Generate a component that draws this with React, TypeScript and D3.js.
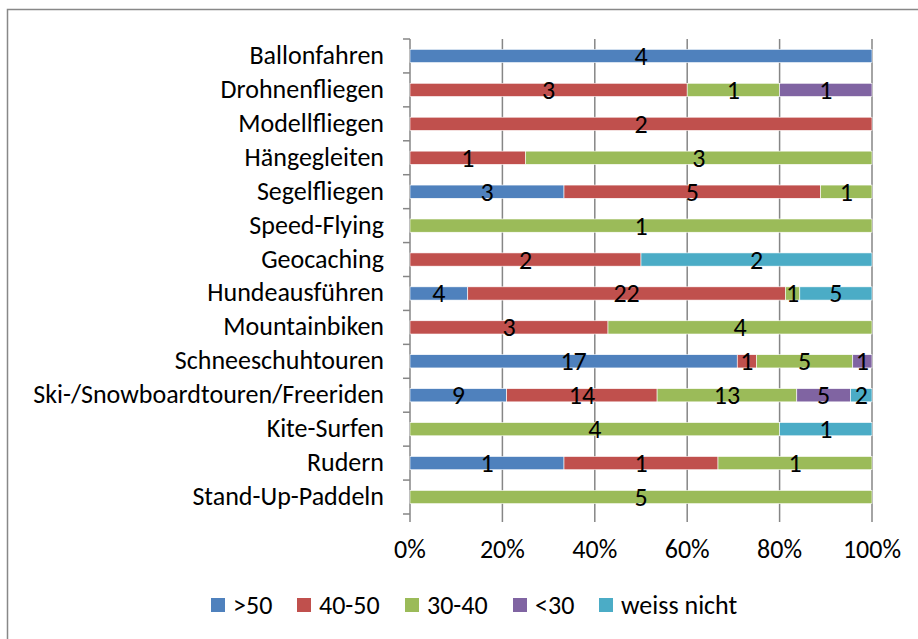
import React from 'react';
import * as d3 from 'd3';

// categories top to bottom
const categories = [
  'Ballonfahren', 'Drohnenfliegen', 'Modellfliegen', 'Hängegleiten', 'Segelfliegen',
  'Speed-Flying', 'Geocaching', 'Hundeausführen', 'Mountainbiken', 'Schneeschuhtouren',
  'Ski-/Snowboardtouren/Freeriden', 'Kite-Surfen', 'Rudern', 'Stand-Up-Paddeln',
];
const seriesNames = ['>50', '40-50', '30-40', '<30', 'weiss nicht'];
const over50 = [4, 0, 0, 0, 3, 0, 0, 4, 0, 17, 9, 0, 1, 0];
const from40to50 = [0, 3, 2, 1, 5, 0, 2, 22, 3, 1, 14, 0, 1, 0];
const from30to40 = [0, 1, 0, 3, 1, 1, 0, 1, 4, 5, 13, 4, 1, 5];
const under30 = [0, 1, 0, 0, 0, 0, 0, 0, 0, 1, 5, 0, 0, 0];
const weissNicht = [0, 0, 0, 0, 0, 0, 2, 5, 0, 0, 2, 1, 0, 0];
const xTicks = [0, 0.2, 0.4, 0.6, 0.8, 1];

const colors = ['#4F81BD', '#C0504D', '#9BBB59', '#8064A2', '#4BACC6'];
const font = 'Carlito, Calibri, "Open Sans", "Noto Sans", sans-serif';

const W = 918, H = 639;
const left = 410, right = 872, top = 39, bottom = 514;
const fs = 26;

export default function App() {
  const allSeries = [over50, from40to50, from30to40, under30, weissNicht];
  const rows = categories.map((c, i) => {
    const r: any = { cat: c };
    seriesNames.forEach((s, k) => (r[s] = allSeries[k][i]));
    return r;
  });
  const stacked = d3.stack().keys(seriesNames).offset(d3.stackOffsetExpand)(rows);

  const x = d3.scaleLinear().domain([0, 1]).range([left, right]);
  const y = d3.scaleBand().domain(categories).range([top, bottom]).paddingInner(0.61).paddingOuter(0.305);
  const band = (bottom - top) / categories.length;
  const grid = '#868686';

  // legend layout
  const legendX = [211, 297, 405, 513, 599];
  const legendY = 605;

  return (
    <svg width={W} height={H} style={{ position: 'absolute', left: 0, top: 0, fontFamily: font }}>
      <rect x={0} y={0} width={W} height={H} fill="#fff" />
      <rect x={7.5} y={9.5} width={W + 20} height={H + 20} fill="none" stroke="#888" strokeWidth={1.5} />

      {xTicks.map(t => (
        <line key={t} x1={x(t)} x2={x(t)} y1={top} y2={bottom + 8} stroke={grid} strokeWidth={1.5} />
      ))}
      {d3.range(categories.length + 1).map(i => (
        <line key={i} x1={left - 7} x2={left} y1={top + i * band} y2={top + i * band} stroke={grid} strokeWidth={1.5} />
      ))}

      {stacked.map((s, k) => (
        <g key={s.key} fill={colors[k]}>
          {s.map((d, i) => (d[1] - d[0] > 0 ? (
            <rect key={i} x={x(d[0])} y={y(categories[i])} width={x(d[1]) - x(d[0])} height={y.bandwidth()}
              stroke="#fff" strokeWidth={0.6} />
          ) : null))}
        </g>
      ))}
      {stacked.map((s, k) => (
        <g key={s.key + 'l'} fontSize={fs} textAnchor="middle" fill="#000">
          {s.map((d, i) => {
            const v = allSeries[k][i];
            if (!v) return null;
            return (
              <text key={i} x={(x(d[0]) + x(d[1])) / 2} y={(y(categories[i]) as number) + y.bandwidth() / 2 + 9}>{v}</text>
            );
          })}
        </g>
      ))}

      {categories.map(c => (
        <text key={c} x={384} y={(y(c) as number) + y.bandwidth() / 2 + 8} textAnchor="end" fontSize={fs} fill="#000">{c}</text>
      ))}
      {xTicks.map(t => (
        <text key={t} x={x(t)} y={558} textAnchor="middle" fontSize={fs} fill="#000">{d3.format('.0%')(t)}</text>
      ))}

      {seriesNames.map((s, k) => (
        <g key={s}>
          <rect x={legendX[k]} y={legendY - 7} width={14} height={14} fill={colors[k]} />
          <text x={legendX[k] + 22} y={legendY + 9} fontSize={fs} fill="#000">{s}</text>
        </g>
      ))}
    </svg>
  );
}
